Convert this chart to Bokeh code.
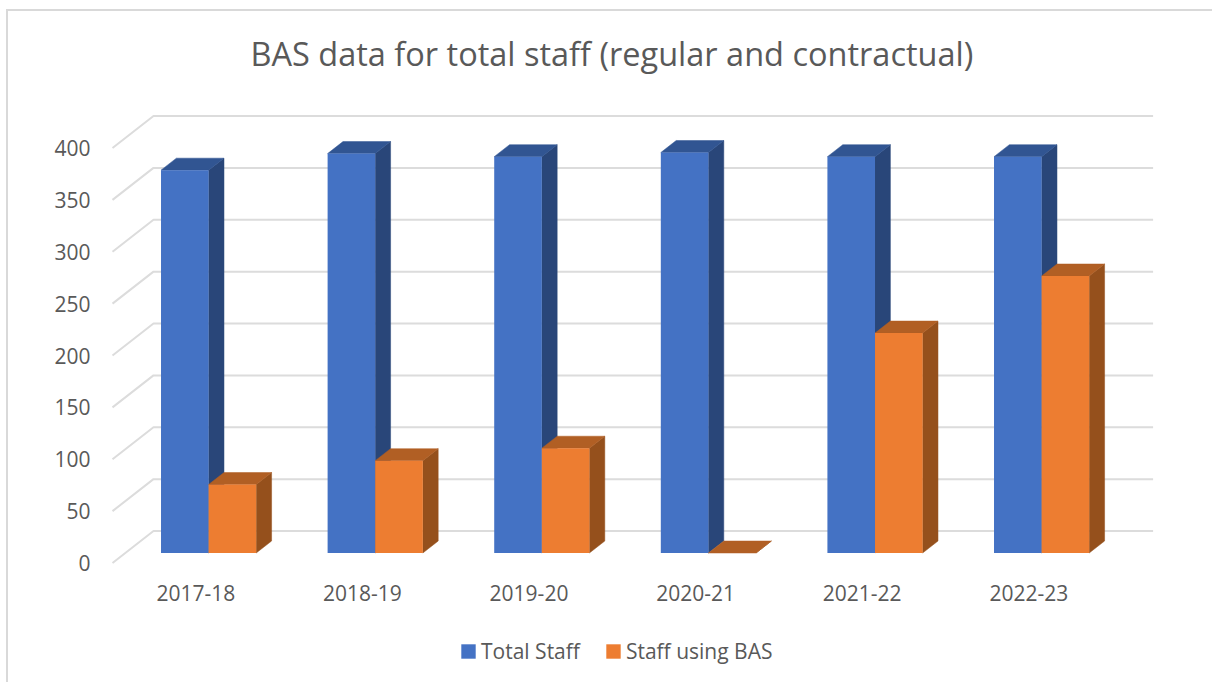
from bokeh.embed import file_html
from bokeh.resources import INLINE
from bokeh.plotting import figure
from bokeh.models import ColumnDataSource, FixedTicker, Legend, LegendItem, Range1d, Title

TITLE = "BAS data for total staff (regular and contractual)"
YEARS = ["2017-18", "2018-19", "2019-20", "2020-21", "2021-22", "2022-23"]
TOTAL_STAFF = [369, 385, 382, 386, 382, 382]
STAFF_USING_BAS = [66, 89, 101, 0, 212, 267]
Y_TICKS = [0, 50, 100, 150, 200, 250, 300, 350, 400]

TEXT = "#595959"
GRID = "#dcdcdc"
BORDER = "#d9d9d9"
BLUE = ("#4472C4", "#294679", "#315592")
ORANGE = ("#ED7D31", "#95501C", "#B15F24")
FONT = "Open Sans"

# scale: pixels per data unit, and oblique projection of depth
PX_X = 166.6
PX_Y = 1.0375
WALL_DX = 41 / PX_X
WALL_DY = 32 / PX_Y
BAR_NEAR = 10 / 32
BAR_FAR = 22 / 32
BAR_W = 47.6 / PX_X
# the drawing area starts right inside the 2px left/top border
FIG_LEFT, FIG_TOP, FIG_W, FIG_H = 8, 11, 1206, 673
FRAME_T = 91
X0_PX, Y0_PX = 195.3, 562.5
AXIS_X_PX, AXIS_Y_PX = 96, 566


def data_x(px):
    return (px - X0_PX) / PX_X


def data_y(px):
    return (Y0_PX - px) / PX_Y


p = figure(width=FIG_W, height=FIG_H, output_backend="svg", toolbar_location=None,
           x_range=Range1d(data_x(FIG_LEFT), data_x(FIG_LEFT + FIG_W)),
           y_range=Range1d(data_y(FIG_TOP + FIG_H), data_y(FRAME_T)),
           min_border_left=0, min_border_right=0,
           min_border_top=FRAME_T - FIG_TOP, min_border_bottom=0,
           background_fill_color="white", border_fill_color="white",
           outline_line_color=None,
           styles={"margin-left": "6px", "margin-top": "9px",
                   "border-left": f"2px solid {BORDER}", "border-top": f"2px solid {BORDER}"})
p.grid.visible = False

t = Title(text=TITLE, align="left", offset=250 - FIG_LEFT, text_font=FONT, text_font_size="32.5px",
          text_font_style="normal", text_color=TEXT, standoff=32)
p.add_layout(t, "above")

p.yaxis.ticker = FixedTicker(ticks=Y_TICKS)
p.xaxis.ticker = FixedTicker(ticks=list(range(len(YEARS))))
p.xaxis.major_label_overrides = {i: y for i, y in enumerate(YEARS)}
p.xaxis.fixed_location = data_y(AXIS_Y_PX)
p.yaxis.fixed_location = data_x(AXIS_X_PX)
for ax in (p.xaxis[0], p.yaxis[0]):
    ax.axis_line_color = None
    ax.major_tick_line_color = None
    ax.minor_tick_line_color = None
    ax.major_tick_in = 0
    ax.major_tick_out = 0
    ax.minor_tick_in = 0
    ax.minor_tick_out = 0
    ax.major_label_text_font = FONT
    ax.major_label_text_font_size = "21px"
    ax.major_label_text_color = TEXT
p.yaxis.major_label_standoff = 6
p.xaxis.major_label_standoff = 18

# walls
x_left = -0.5
x_right = len(YEARS) - 0.5
p.multi_line(
    xs=[[x_left, x_left + WALL_DX, x_right + WALL_DX] for _ in Y_TICKS],
    ys=[[v, v + WALL_DY, v + WALL_DY] for v in Y_TICKS],
    line_color=GRID, line_width=2,
)


def bars(values, x_off, colors):
    cx = [i + x_off for i in range(len(values))]
    nx, ny = WALL_DX * BAR_NEAR, WALL_DY * BAR_NEAR
    fx, fy = WALL_DX * BAR_FAR, WALL_DY * BAR_FAR
    side_x, side_y, top_x, top_y = [], [], [], []
    for c, v in zip(cx, values):
        l, r = c + nx, c + BAR_W + nx
        dx, dy = fx - nx, fy - ny
        side_x.append([r, r + dx, r + dx, r])
        side_y.append([ny, ny + dy, v + ny + dy, v + ny])
        top_x.append([l, r, r + dx, l + dx])
        top_y.append([v + ny, v + ny, v + ny + dy, v + ny + dy])
    p.patches(side_x, side_y, fill_color=colors[1], line_color=colors[1], line_width=0.5)
    p.patches(top_x, top_y, fill_color=colors[2], line_color=colors[2], line_width=0.5)
    src = ColumnDataSource(dict(left=[c + nx for c in cx], right=[c + BAR_W + nx for c in cx],
                                top=[v + ny for v in values], bottom=[ny] * len(values)))
    return p.quad(left="left", right="right", top="top", bottom="bottom", source=src,
                  fill_color=colors[0], line_color=None)


r_total = bars(TOTAL_STAFF, -BAR_W, BLUE)
r_bas = bars(STAFF_USING_BAS, 0, ORANGE)

legend = Legend(items=[LegendItem(label="Total Staff", renderers=[r_total]),
                       LegendItem(label="Staff using BAS", renderers=[r_bas])],
                orientation="horizontal", location=(451, 19), border_line_color=None,
                background_fill_alpha=0, glyph_width=18, glyph_height=18, label_standoff=4,
                spacing=24, padding=0, margin=0, label_text_font=FONT,
                label_text_font_size="21px", label_text_color=TEXT)
p.add_layout(legend, "center")

open("out.html", "w").write(file_html(p, INLINE))
